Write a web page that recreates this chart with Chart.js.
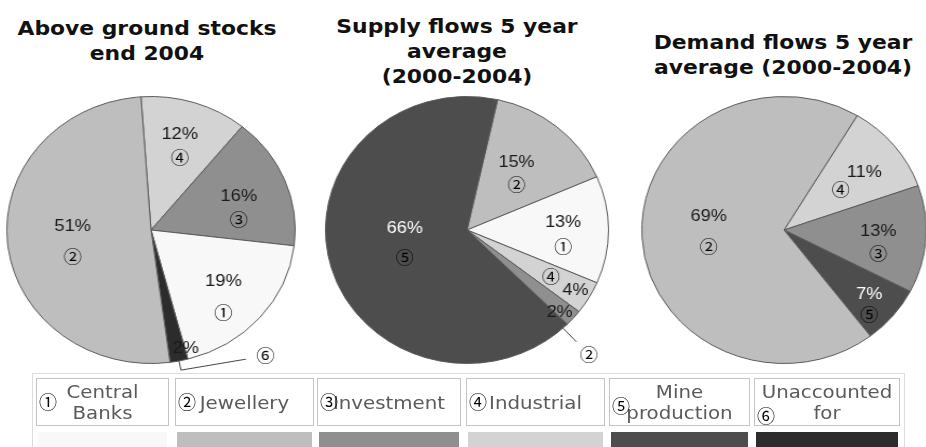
<!DOCTYPE html>
<html>
<head>
<meta charset="utf-8">
<script src="https://cdn.jsdelivr.net/npm/chart.js@4.4.1/dist/chart.umd.min.js"></script>
<style>
  body { margin: 0; width: 926px; height: 447px; overflow: hidden; background: #fff; position: relative; }
  .title { position: absolute; width: 300px; text-align: center; font: bold 19px "DejaVu Sans", sans-serif;
           line-height: 25px; color: #111; transform: scaleX(1.15); transform-origin: 50% 0; }
  .pie { position: absolute; top: 80px; width: 300px; height: 300px; transform-origin: 50% 50%; }
  #legend { position: absolute; left: 32px; top: 373px; width: 871px; height: 80px; border: 1px solid #ddd; }
  .cell { position: absolute; top: 4px; height: 46px; border: 1px solid #c4c4c4; }
  .cell .txt { position: absolute; left: 0; right: 0; top: 50%; transform: translateY(-50%) scaleX(1.1);
               text-align: center; font: 18px "DejaVu Sans", sans-serif; line-height: 21px; color: #5a5a5a; }
  .cell .num { position: absolute; left: 2px; font: 18px "Noto Sans CJK JP", sans-serif; color: #000; line-height: 18px; }
  .swatch { position: absolute; top: 58px; height: 22px; }
</style>
</head>
<body>
<div class="title" style="left:-3px; top:16px">Above ground stocks<br>end 2004</div>
<div class="title" style="left:307px; top:14px">Supply flows 5 year<br>average<br>(2000-2004)</div>
<div class="title" style="left:633px; top:30px">Demand flows 5 year<br>average (2000-2004)</div>

<div class="pie" style="left:1px; transform: scaleX(1.08)"><canvas id="stocks" width="300" height="300"></canvas></div>
<div class="pie" style="left:317px; transform: scaleX(1.06)"><canvas id="supply" width="300" height="300"></canvas></div>
<div class="pie" style="left:634px; transform: scaleX(1.065)"><canvas id="demand" width="300" height="300"></canvas></div>

<div id="legend"></div>

<script>
const categories = ['Central Banks', 'Jewellery', 'Investment', 'Industrial', 'Mine production', 'Unaccounted for'];
const tags = ['①', '②', '③', '④', '⑤', '⑥'];
const shades = ['#f8f8f8', '#bebebe', '#8f8f8f', '#d3d3d3', '#4d4d4d', '#2c2c2c'];

// Above ground stocks, end 2004 (slices clockwise from the top)
const stocksKeys = [3, 2, 0, 5, 1];
const stocksShares = [12, 16, 19, 2, 51];
const stocksTags = ['④', '③', '①', '⑥', '②'];

// Supply flows, 5 year average 2000-2004
const supplyKeys = [1, 0, 3, 2, 4];
const supplyShares = [15, 13, 4, 2, 66];
const supplyTags = ['②', '①', '④', '②', '⑤'];

// Demand flows, 5 year average 2000-2004
const demandKeys = [3, 2, 4, 1];
const demandShares = [11, 13, 7, 69];
const demandTags = ['④', '③', '⑤', '②'];

// where each slice puts its "xx%" and circled number
// f: stacked block at f*radius, pf/tf: percent and number on the radius, line/tag: callout outside
const stocksSpots = [
  { f: 0.66, gap: 24 },
  { f: 0.63, gap: 23, da: 7 },
  { f: 0.71, gap: 31, da: 4 },
  { pf: 0.92, da: -4, line: [[0, 1.0], [0, 1.07], [-23, 1.17]], tag: [-29, 1.23] },
  { f: 0.55, gap: 30, da: -3 }
];
const supplySpots = [
  { f: 0.55, gap: 22 },
  { f: 0.68, gap: 24, da: 3 },
  { pf: 0.89, tf: 0.69 },
  { pf: 0.9, da: 2, line: [[6, 1.0], [6, 1.14]], tag: [6, 1.27] },
  { f: 0.45, gap: 29, da: 4, light: true }
];
const demandSpots = [
  { pf: 0.71, tf: 0.5, da: 2 },
  { f: 0.67, gap: 23, da: 4 },
  { f: 0.82, gap: 20, da: 3, light: true },
  { f: 0.53, gap: 30, da: 2 }
];

const sliceLabels = {
  id: 'sliceLabels',
  afterDatasetsDraw(chart, args, opts) {
    const ctx = chart.ctx;
    const values = chart.data.datasets[0].data;
    ctx.save();
    ctx.textAlign = 'center';
    ctx.textBaseline = 'middle';
    chart.getDatasetMeta(0).data.forEach((arc, i) => {
      const s = opts.spots[i];
      const mid = (arc.startAngle + arc.endAngle) / 2;
      const r = arc.outerRadius;
      const at = (f, da) => {
        const a = mid + (da || 0) * Math.PI / 180;
        return [arc.x + Math.cos(a) * r * f, arc.y + Math.sin(a) * r * f];
      };
      const pct = values[i] + '%';
      let p, t;
      if (s.f !== undefined) {
        const c = at(s.f, s.da);
        p = [c[0], c[1] - s.gap / 2];
        t = [c[0], c[1] + s.gap / 2];
      } else if (s.tf !== undefined) {
        p = at(s.pf, s.da);
        t = at(s.tf, s.da);
      } else {
        p = at(s.pf, s.da);
        t = at(s.tag[1], s.tag[0]);
        ctx.strokeStyle = '#444';
        ctx.lineWidth = 1;
        ctx.beginPath();
        s.line.forEach((pt, k) => {
          const q = at(pt[1], pt[0]);
          k ? ctx.lineTo(q[0], q[1]) : ctx.moveTo(q[0], q[1]);
        });
        ctx.stroke();
      }
      ctx.font = '17px "Liberation Sans", Arial, sans-serif';
      ctx.fillStyle = s.light ? '#fff' : '#1a1a1a';
      ctx.fillText(pct, p[0], p[1]);
      ctx.font = '17px "Noto Sans CJK JP", sans-serif';
      ctx.fillStyle = '#000';
      ctx.fillText(opts.tags[i], t[0], t[1]);
    });
    ctx.restore();
  }
};

function drawPie(id, keys, shares, sliceTags, spots, rotation) {
  new Chart(document.getElementById(id), {
    type: 'pie',
    data: {
      labels: keys.map(k => categories[k]),
      datasets: [{
        data: shares,
        backgroundColor: keys.map(k => shades[k]),
        borderColor: '#5a5a5a',
        borderWidth: 1
      }]
    },
    options: {
      responsive: false,
      animation: false,
      rotation: rotation,
      layout: { padding: 16 },
      plugins: {
        legend: { display: false },
        tooltip: { enabled: false },
        sliceLabels: { spots: spots, tags: sliceTags }
      }
    },
    plugins: [sliceLabels]
  });
}

drawPie('stocks', stocksKeys, stocksShares, stocksTags, stocksSpots, -4);
drawPie('supply', supplyKeys, supplyShares, supplyTags, supplySpots, 12.5);
drawPie('demand', demandKeys, demandShares, demandTags, demandSpots, 31);

// legend table: name box over a colour swatch
const legend = document.getElementById('legend');
const cellLeft = [3, 142, 284, 433, 576, 721];
const cellWidth = [131, 137, 142, 137, 139, 144];
const numTop = [13, 13, 13, 13, 17, 27];
categories.forEach((name, i) => {
  const cell = document.createElement('div');
  cell.className = 'cell';
  cell.style.left = cellLeft[i] + 'px';
  cell.style.width = cellWidth[i] + 'px';
  cell.innerHTML = '<div class="txt">' + name.split(' ').join('<br>') + '</div>' +
    '<div class="num" style="top:' + numTop[i] + 'px">' + tags[i] + '</div>';
  legend.appendChild(cell);
  const sw = document.createElement('div');
  sw.className = 'swatch';
  sw.style.left = (cellLeft[i] + 2) + 'px';
  sw.style.width = (cellWidth[i] - 2) + 'px';
  sw.style.background = shades[i];
  legend.appendChild(sw);
});
</script>
</body>
</html>
